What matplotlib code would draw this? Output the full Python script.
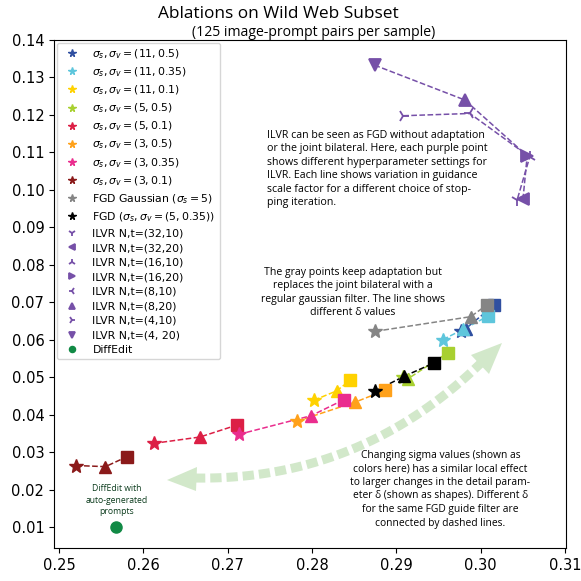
import matplotlib
matplotlib.use("Agg")
import matplotlib.pyplot as plt
from matplotlib.patches import Polygon
import numpy as np

# FGD sweeps: (star, triangle, square) = three delta values per guide filter
sweep_labels = [r"$\sigma_s, \sigma_v = (11, 0.5)$", r"$\sigma_s, \sigma_v = (11, 0.35)$",
                r"$\sigma_s, \sigma_v = (11, 0.1)$", r"$\sigma_s, \sigma_v = (5, 0.5)$",
                r"$\sigma_s, \sigma_v = (5, 0.1)$", r"$\sigma_s, \sigma_v = (3, 0.5)$",
                r"$\sigma_s, \sigma_v = (3, 0.35)$", r"$\sigma_s, \sigma_v = (3, 0.1)$",
                r"FGD Gaussian ($\sigma_s = 5$)", r"FGD ($\sigma_s, \sigma_v = (5, 0.35)$)"]
sweep_colors = ["#2f4fa0", "#5ec6dc", "#ffd200", "#a8d030", "#dc1f45",
                "#ffa11a", "#ea2d8e", "#8b1a1a", "#858585", "#000000"]
sweep_x = [[0.2977, 0.2982, 0.3016],
           [0.2955, 0.2979, 0.3009],
           [0.2802, 0.2829, 0.2845],
           [0.2908, 0.2914, 0.2961],
           [0.2612, 0.2667, 0.2711],
           [0.2782, 0.2851, 0.2887],
           [0.2713, 0.2799, 0.2838],
           [0.2520, 0.2555, 0.2580],
           [0.2875, 0.2988, 0.3007],
           [0.2875, 0.2909, 0.2944]]
sweep_y = [[0.0625, 0.0630, 0.0693],
           [0.0601, 0.0628, 0.0664],
           [0.0439, 0.0464, 0.0492],
           [0.0500, 0.0497, 0.0566],
           [0.0324, 0.0341, 0.0373],
           [0.0383, 0.0434, 0.0466],
           [0.0348, 0.0398, 0.0441],
           [0.0265, 0.0262, 0.0288],
           [0.0623, 0.0662, 0.0693],
           [0.0464, 0.0503, 0.0538]]

# ILVR settings
ilvr_labels = ["ILVR N,t=(32,10)", "ILVR N,t=(32,20)", "ILVR N,t=(16,10)", "ILVR N,t=(16,20)",
               "ILVR N,t=(8,10)", "ILVR N,t=(8,20)", "ILVR N,t=(4,10)", "ILVR N,t=(4, 20)"]
ilvr_markers = ["1", "<", "2", ">", "3", "^", "4", "v"]
ilvr_x = [0.3043, 0.3050, 0.3058, 0.3055, 0.2987, 0.2981, 0.2908, 0.2874]
ilvr_y = [0.0973, 0.0976, 0.1088, 0.1091, 0.1204, 0.1240, 0.1198, 0.1333]
# lines for each stopping iteration (indices into the lists above)
ilvr_lines = [[6, 4, 2, 0], [7, 5, 3, 1]]

diffedit_x = [0.2567]
diffedit_y = [0.0102]

purple = "#7650a8"
note_font = ["Open Sans", "DejaVu Sans"]

fig = plt.figure(figsize=(5.81, 5.81), dpi=100)
ax = fig.add_axes([54 / 581, 1 - 548 / 581, 512 / 581, 508 / 581])

# big curved dashed arrow (figure pixel geometry)
def px(x, y):
    return x / 581, 1 - y / 581

p0 = np.array([194, 478.0]); p1 = np.array([360, 481.0]); p2 = np.array([482, 362.0])
tt = np.linspace(0, 1, 100)[:, None]
curve = (1 - tt) ** 2 * p0 + 2 * (1 - tt) * tt * p1 + tt ** 2 * p2
cx, cy = px(curve[:, 0], curve[:, 1])
arrow_c = "#d2e8ca"
ax.plot(cx, cy, transform=fig.transFigure, color=arrow_c, lw=6.5,
        dashes=(1.25, 0.55), solid_capstyle="butt", dash_capstyle="butt", clip_on=False, zorder=1)
heads = [[(167, 480), (197, 467), (196, 491)], [(502, 343), (471, 355), (489, 374)]]
for h in heads:
    ax.add_patch(Polygon([px(a, b) for a, b in h], closed=True, transform=fig.transFigure,
                         color=arrow_c, lw=0, clip_on=False, zorder=1))

for lab, c, xs, ys in zip(sweep_labels, sweep_colors, sweep_x, sweep_y):
    ax.plot(xs, ys, "--", color=c, lw=1.1, zorder=2)
    ax.plot(xs[0], ys[0], "*", color=c, ms=10, label=lab, zorder=3)
    ax.plot(xs[1], ys[1], "^", color=c, ms=9, zorder=3)
    ax.plot(xs[2], ys[2], "s", color=c, ms=8.5, zorder=3)

for line in ilvr_lines:
    ax.plot([ilvr_x[i] for i in line], [ilvr_y[i] for i in line], "--", color=purple, lw=1.1, zorder=2)
for lab, m, x, y in zip(ilvr_labels, ilvr_markers, ilvr_x, ilvr_y):
    ax.plot(x, y, m, color=purple, ms=9, mew=1.3, label=lab, zorder=3)

ax.plot(diffedit_x, diffedit_y, "o", color="#118a45", ms=8, label="DiffEdit", zorder=3)

ax.set_xlim(0.2494, 0.3101)
ax.set_ylim(0.0045, 0.1400)
ax.set_xticks(np.arange(0.25, 0.3101, 0.01))
ax.set_yticks(np.arange(0.01, 0.1401, 0.01))
ax.set_xticklabels(["%.2f" % v for v in np.arange(0.25, 0.3101, 0.01)])
ax.set_yticklabels(["%.2f" % v for v in np.arange(0.01, 0.1401, 0.01)])
ax.tick_params(labelsize=10.5)

ax.legend(loc="upper left", fontsize=7.8, markerscale=0.55, borderaxespad=0.25,
          labelspacing=0.42, handletextpad=0.9)

ax.text(0.2747, 0.1160, "ILVR can be seen as FGD without adaptation\nor the joint bilateral. Here, each purple point\n"
        "shows different hyperparameter settings for\nILVR. Each line shows variation in guidance\n"
        "scale factor for a different choice of stop-\nping iteration.",
        family=note_font, fontsize=7.7, ha="left", va="top", linespacing=1.3)
ax.text(0.2848, 0.0727, "The gray points keep adaptation but\nreplaces the joint bilateral with a\n"
        "regular gaussian filter. The line shows\ndifferent \u03b4 values",
        family=note_font, fontsize=7.6, ha="center", va="center", linespacing=1.3)
ax.text(0.2952, 0.0202, "Changing sigma values (shown as\ncolors here) has a similar local effect\n"
        "to larger changes in the detail param-\neter \u03b4 (shown as shapes). Different \u03b4\n"
        "for the same FGD guide filter are\nconnected by dashed lines.",
        family=note_font, fontsize=7.4, ha="center", va="center", linespacing=1.33)
ax.text(0.2568, 0.0173, "DiffEdit with\nauto-generated\nprompts", family=note_font, fontsize=6.2,
        color="#0b3b1c", ha="center", va="center", linespacing=1.3)

fig.text(278 / 581, 1 - 14 / 581, "Ablations on Wild Web Subset", family=note_font,
         fontsize=12.4, ha="center", va="center")
fig.text(314 / 581, 1 - 33 / 581, "(125 image-prompt pairs per sample)", family=note_font,
         fontsize=10.5 * 0.96, ha="center", va="center")

fig.savefig("out.png", dpi=100)
